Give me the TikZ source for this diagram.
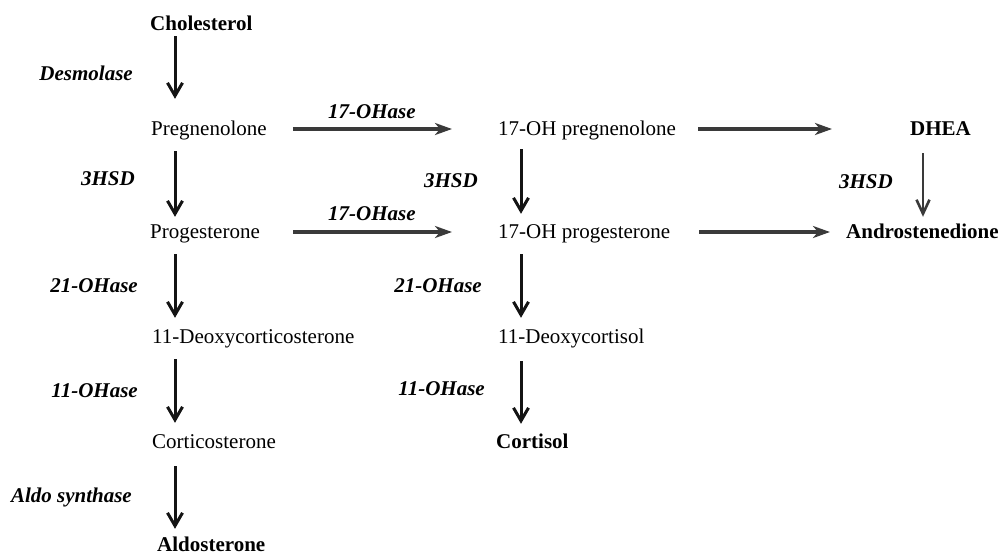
\documentclass[tikz,border=0pt]{standalone}
\usepackage{fontspec}
\setmainfont{Liberation Serif}
\usepackage{tikz}
\usetikzlibrary{arrows.meta,positioning}
\usepackage{xcolor}

\definecolor{hgrey}{HTML}{3A3A3A}

\begin{document}
\begin{tikzpicture}[x=1pt,y=-1pt,
   every node/.style={font=\fontsize{21}{25}\selectfont,inner sep=0pt,text height=16pt,text depth=4pt},
   mol/.style={anchor=base west},
   hmol/.style={anchor=base west,font=\fontsize{21}{25}\selectfont\bfseries},
   enz/.style={anchor=base east,font=\fontsize{21}{25}\selectfont\bfseries\itshape},
   va/.style={draw=black!92,line width=3pt,-{Straight Barb[length=13pt,width=15pt]},shorten <=12pt,shorten >=9pt},
   vg/.style={draw=hgrey,line width=2.6pt,-{Straight Barb[length=14pt,width=13pt]}},
   ha/.style={draw=hgrey,line width=3.2pt,-{Stealth[length=17pt,width=12pt,inset=5pt]}}]
  \useasboundingbox (0,0) rectangle (1002,555);
  \coordinate (xl) at (175,0);
  \coordinate (xm) at (521,0);
  \coordinate (xr) at (923,0);
  % metabolites
  \node[hmol] (chol) at (150,30) {Cholesterol};
  \node[mol] (preg) at (151,135) {Pregnenolone};
  \node[mol] (prog) at (150,238) {Progesterone};
  \node[mol] (doc) at (152,343) {11-Deoxycorticosterone};
  \node[mol] (cort) at (152,448) {Corticosterone};
  \node[hmol,text depth=0pt] (aldo) at (157,551) {Aldosterone};
  \node[mol] (ohpreg) at (498,135) {17-OH pregnenolone};
  \node[mol] (ohprog) at (498,238) {17-OH progesterone};
  \node[mol] (dcl) at (498,343) {11-Deoxycortisol};
  \node[hmol] (cortisol) at (496,448) {Cortisol};
  \node[hmol] (dhea) at (910,135) {DHEA};
  \node[hmol] (andro) at (846,238) {Androstenedione};
  % enzymes
  \node[enz] (desm) at (133,80) {Desmolase};
  \node[enz] (hsda) at (135,185) {3HSD};
  \node[enz] (ohasea) at (138,292) {21-OHase};
  \node[enz] (elevena) at (138,397) {11-OHase};
  \node[enz] (aldosyn) at (132,502) {Aldo synthase};
  \node[enz,anchor=base west] (sevena) at (328,118) {17-OHase};
  \node[enz,anchor=base west] (sevenb) at (328,220) {17-OHase};
  \node[enz] (hsdb) at (478,187) {3HSD};
  \node[enz] (ohaseb) at (482,292) {21-OHase};
  \node[enz] (elevenb) at (485,395) {11-OHase};
  \node[enz] (hsdc) at (893,188) {3HSD};
  % arrows
  \draw[va,shorten <=2pt,shorten >=20pt] (chol.south -| xl) -- (preg.north -| xl);
  \draw[va,shorten >=5pt] (preg.south -| xl) -- (prog.north -| xl);
  \draw[va] (prog.south -| xl) -- (doc.north -| xl);
  \draw[va] (doc.south -| xl) -- (cort.north -| xl);
  \draw[va,shorten <=14pt,shorten >=6pt] (cort.south -| xl) -- (aldo.north -| xl);
  \draw[va,shorten <=10pt,shorten >=8pt] (ohpreg.south -| xm) -- (ohprog.north -| xm);
  \draw[va] (ohprog.south -| xm) -- (dcl.north -| xm);
  \draw[va,shorten <=14pt,shorten >=8pt] (dcl.south -| xm) -- (cortisol.north -| xm);
  \draw[vg,shorten <=14pt,shorten >=5pt] (dhea.south -| xr) -- (andro.north -| xr);
  \draw[ha,shorten <=26pt,shorten >=46pt] (preg.east) -- (ohpreg.west);
  \draw[ha,shorten <=33pt,shorten >=46pt] (prog.east) -- (ohprog.west);
  \draw[ha,shorten <=22pt,shorten >=78pt] (ohpreg.east) -- (dhea.west);
  \draw[ha,shorten <=29pt,shorten >=16pt] (ohprog.east) -- (andro.west);
\end{tikzpicture}
\end{document}
